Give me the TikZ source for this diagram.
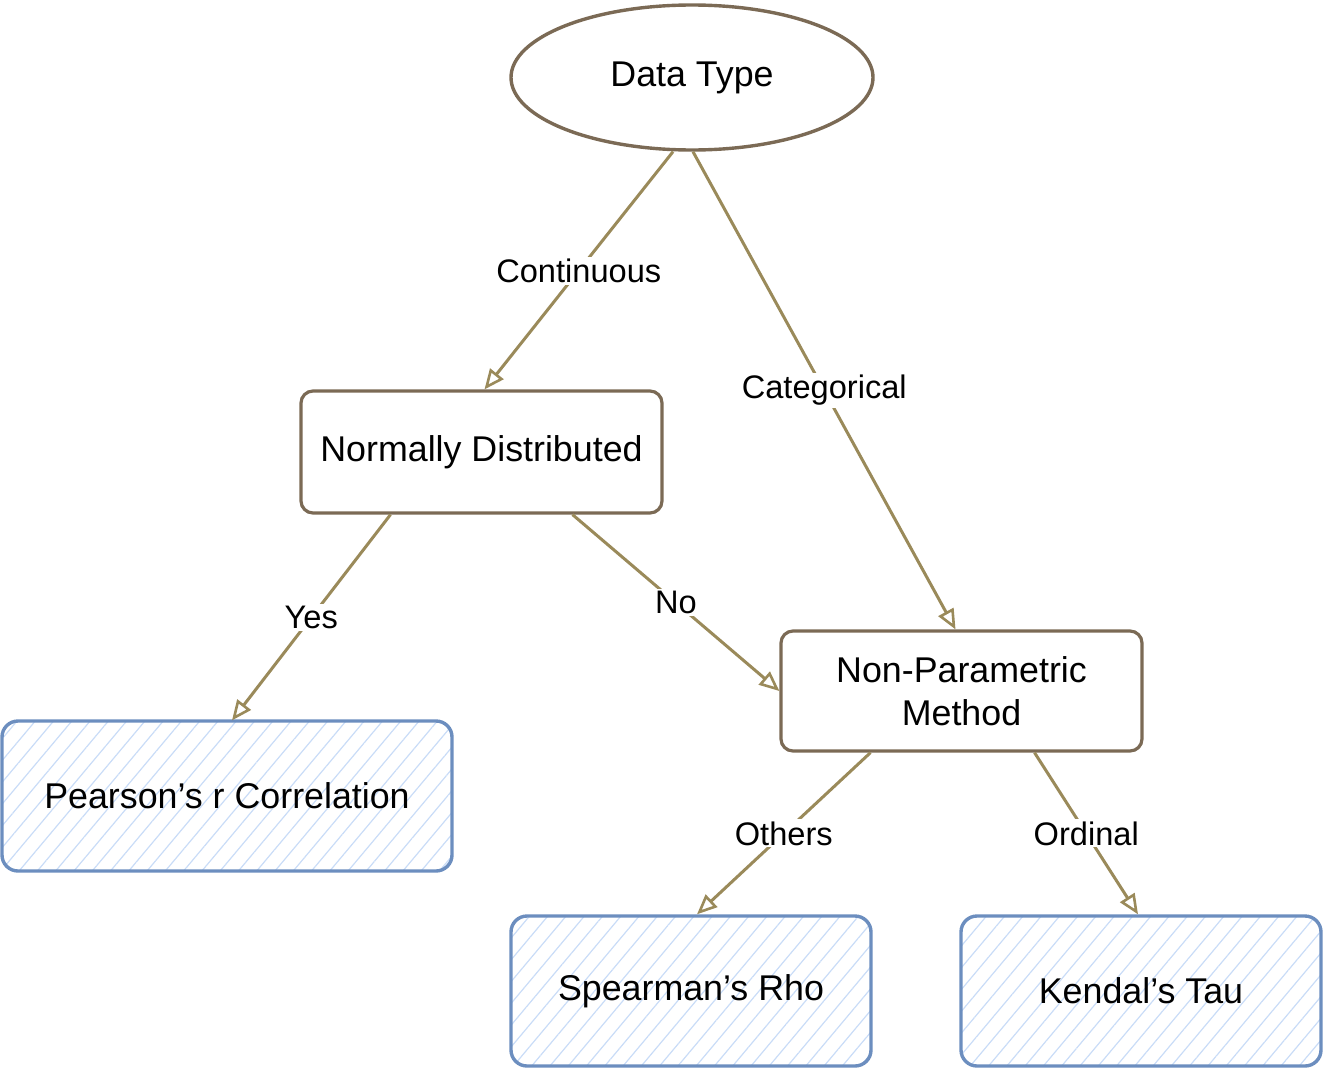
\documentclass[tikz,border=0pt]{standalone}
\usepackage{fontspec}
\setmainfont{Liberation Sans}
\usetikzlibrary{shapes.geometric,arrows.meta,patterns.meta}
\definecolor{boxline}{HTML}{7B6A55}
\definecolor{arrline}{HTML}{9A8A5A}
\definecolor{blueline}{HTML}{6C8EBF}
\definecolor{bluehatch}{HTML}{C9DCF7}
\tikzset{
  decision/.style={draw=boxline, line width=3.2pt, rounded corners=12pt, fill=white,
    align=center, inner sep=0pt, font=\fontsize{35.8}{43}\selectfont},
  oval/.style={ellipse, draw=boxline, line width=3.4pt, fill=white, inner sep=0pt,
    font=\fontsize{35.8}{43}\selectfont},
  result/.style={draw=blueline, line width=3.4pt, rounded corners=16pt,
    pattern={Lines[angle=50,distance=14pt,line width=1.2pt]}, pattern color=bluehatch,
    align=center, inner sep=0pt, font=\fontsize{35.8}{43}\selectfont},
  conn/.style={draw=arrline, line width=3pt, -{Triangle[open,length=20pt,width=17pt,line width=2.6pt]}},
  elabel/.style={fill=white, inner sep=2pt, font=\fontsize{32.6}{39}\selectfont, text=black}
}
\begin{document}
\begin{tikzpicture}[x=1pt,y=-1pt]
\useasboundingbox (0,0) rectangle (1323,1068);
\node[oval, minimum width=362pt, minimum height=145pt] (dt) at (692,77.5) {Data Type};
\node[decision, minimum width=361pt, minimum height=122pt] (nd) at (481.5,452) {Normally Distributed};
\node[decision, minimum width=361pt, minimum height=120pt] (np) at (961.5,691) {Non-Parametric\\Method};
\node[result, minimum width=450pt, minimum height=150pt] (pr) at (227,796) {Pearson’s r Correlation};
\node[result, minimum width=360pt, minimum height=150pt] (sr) at (691,991) {Spearman’s Rho};
\node[result, minimum width=360pt, minimum height=150pt] (kt) at (1141,991) {Kendal’s Tau};

\draw[conn] ([xshift=-19pt]dt.south) -- node[elabel]{Continuous} ([xshift=3pt]nd.north);
\draw[conn] ([xshift=1pt]dt.south) -- node[elabel]{Categorical} ([xshift=-6pt]np.north);
\draw[conn] ([xshift=-91pt]nd.south) -- node[elabel]{Yes} ([xshift=5pt]pr.north);
\draw[conn] ([xshift=91pt]nd.south) -- node[elabel]{No} (np.west);
\draw[conn] ([xshift=-91pt]np.south) -- node[elabel]{Others} ([xshift=6pt]sr.north);
\draw[conn] ([xshift=73pt]np.south) -- node[elabel]{Ordinal} ([xshift=-3pt]kt.north);
\end{tikzpicture}
\end{document}
